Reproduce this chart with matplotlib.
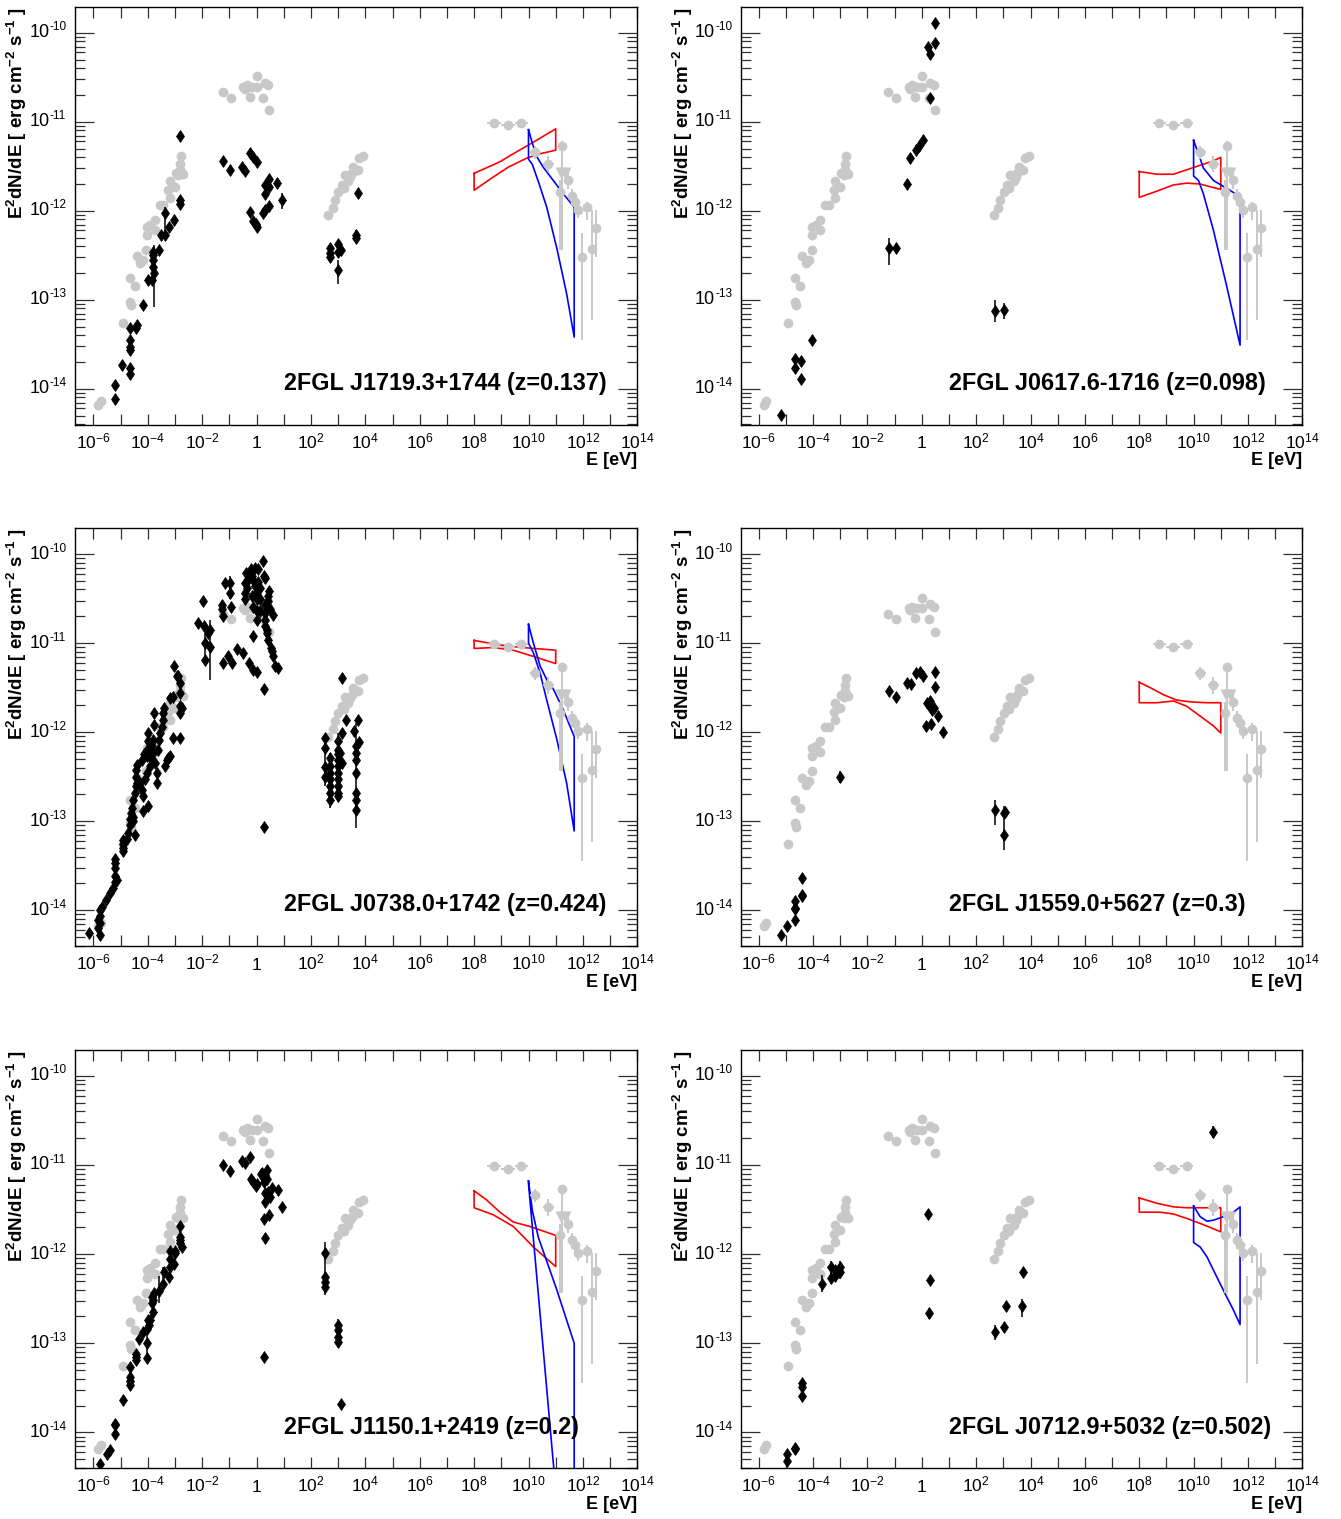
import numpy as np
import matplotlib
matplotlib.use('Agg')
import matplotlib.pyplot as plt
from matplotlib.ticker import FixedLocator, NullLocator, NullFormatter
from matplotlib.transforms import offset_copy

plt.rcParams['font.family'] = ['Liberation Sans', 'DejaVu Sans']
plt.rcParams['mathtext.fontset'] = 'custom'
plt.rcParams['mathtext.rm'] = 'Liberation Sans'
plt.rcParams['mathtext.it'] = 'Liberation Sans:italic'
plt.rcParams['mathtext.bf'] = 'Liberation Sans:bold'
plt.rcParams['mathtext.default'] = 'regular'

# all values are log10(E / eV) and log10(E^2 dN/dE / erg cm-2 s-1)

### grey reference SED, same in every panel
ref_sed = np.array([
    [-5.82, -14.18], [-5.72, -14.14], [-4.92, -13.26], [-4.65, -13.02], [-4.62, -13.06], [-4.65, -12.76],
    [-4.47, -12.85], [-4.41, -12.51], [-4.28, -12.59], [-4.16, -12.55], [-4.06, -12.44], [-4.03, -12.27],
    [-4.03, -12.18], [-3.90, -12.16], [-3.73, -12.10], [-3.73, -12.22], [-3.55, -11.94], [-3.43, -11.94],
    [-3.18, -11.86], [-3.24, -11.77], [-3.18, -11.67], [-3.00, -11.73], [-2.96, -11.58], [-2.81, -11.54],
    [-2.81, -11.47], [-2.78, -11.39], [-2.88, -11.60], [-2.72, -11.59],
    [-1.25, -10.67], [-0.95, -10.73], [-0.49, -10.61], [-0.36, -10.59], [-0.24, -10.72], [-0.18, -10.61],
    [0.00, -10.49], [0.00, -10.61], [0.25, -10.73], [0.31, -10.56], [0.43, -10.59], [0.47, -10.87], [-0.42, -10.63],
    [2.64, -12.05], [2.82, -11.97], [2.89, -11.88], [3.01, -11.79], [3.13, -11.71], [3.25, -11.60],
    [3.38, -11.67], [3.50, -11.58], [3.56, -11.51], [3.74, -11.54], [3.78, -11.41], [3.93, -11.39],
    [3.20, -11.74], [3.45, -11.62],
])
# grey gamma-ray points: logE, logF, half width (dex), low, high
ref_gam = np.array([
    [8.74, -11.01, 0.25, -11.01, -11.01],
    [9.24, -11.04, 0.25, -11.04, -11.04],
    [9.74, -11.01, 0.25, -11.01, -11.01],
    [10.24, -11.34, 0.20, -11.42, -11.27],
    [10.73, -11.47, 0.20, -11.57, -11.38],
    [11.24, -11.27, 0.15, -12.44, -11.22],
    [11.46, -11.66, 0.08, -11.76, -11.56],
    [11.16, -11.79, 0.00, -12.44, -11.66],
    [11.59, -11.84, 0.08, -11.94, -11.76],
    [11.71, -11.90, 0.00, -11.98, -11.82],
    [11.83, -11.99, 0.00, -12.08, -11.92],
    [12.14, -11.96, 0.00, -12.10, -11.90],
    [11.98, -12.52, 0.00, -13.45, -12.25],
    [12.32, -12.43, 0.00, -13.23, -11.99],
    [12.47, -12.19, 0.00, -12.52, -11.99],
])
ref_ul = np.array([[11.18, -11.58], [11.33, -11.58]])

### 2FGL J1719.3+1744
p1_sed = np.array([
    [-5.20, -13.96], [-5.20, -14.12], [-4.93, -13.73], [-4.65, -13.32], [-4.65, -13.45], [-4.65, -13.53],
    [-4.65, -13.57], [-4.65, -13.77], [-4.65, -13.83], [-4.43, -13.32], [-4.41, -13.28], [-4.19, -13.06],
    [-3.98, -12.78], [-3.86, -12.78], [-3.79, -12.63], [-3.79, -12.55], [-3.79, -12.50], [-3.79, -12.46],
    [-3.76, -12.70], [-3.57, -12.44], [-3.51, -12.27], [-3.37, -12.03], [-3.37, -12.27], [-3.21, -12.18],
    [-3.02, -12.10], [-2.81, -11.92], [-2.81, -11.88], [-2.80, -11.16],
    [-1.25, -11.44], [-0.98, -11.54], [-0.55, -11.51], [-0.42, -11.55], [-0.24, -11.35], [-0.24, -12.01],
    [-0.12, -11.40], [-0.12, -12.12], [0.00, -11.45], [-0.02, -12.15], [0.03, -12.18], [0.23, -12.03],
    [0.31, -11.99], [0.31, -11.81], [0.31, -11.71], [0.47, -11.73], [0.47, -11.64], [0.47, -11.95],
    [0.74, -11.69], [0.92, -11.88],
    [2.70, -12.42], [2.70, -12.48], [2.70, -12.52], [3.01, -12.37], [3.01, -12.46], [3.11, -12.44],
    [3.01, -12.67], [3.66, -12.27], [3.66, -12.31], [3.74, -11.80],
])
p1_err = np.array([[-3.76, -13.08, -12.39], [-3.37, -12.25, -11.96], [0.92, -11.98, -11.80],
                   [3.01, -12.82, -12.55], [3.66, -12.36, -12.22], [-4.65, -13.60, -13.47]])
p1_red_up = np.array([[8.0, -11.58], [8.95, -11.45], [9.44, -11.36], [10.18, -11.23], [11.0, -11.08]])
p1_red_lo = np.array([[8.0, -11.77], [8.71, -11.62], [9.26, -11.51], [9.93, -11.41], [10.42, -11.36], [11.0, -11.32]])
p1_blue_up = np.array([[10.0, -11.09], [10.14, -11.24], [10.30, -11.39], [10.54, -11.51], [10.91, -11.66],
                       [11.28, -11.81], [11.68, -11.96]])
p1_blue_lo = np.array([[10.0, -11.42], [10.14, -11.48], [10.36, -11.67], [10.67, -11.96], [11.04, -12.42],
                       [11.40, -12.93], [11.68, -13.42]])

### 2FGL J0617.6-1716
p2_sed = np.array([
    [-5.20, -14.30], [-4.65, -13.67], [-4.65, -13.77], [-4.43, -13.69], [-4.43, -13.89], [-4.04, -13.45],
    [-1.22, -12.42], [-0.95, -12.42], [-0.55, -11.70], [-0.42, -11.41], [-0.21, -11.32], [-0.09, -11.27],
    [0.04, -11.21], [0.29, -10.73], [0.23, -10.16], [0.31, -10.24], [0.47, -10.11], [0.47, -9.89],
    [2.70, -13.13], [3.01, -13.12],
])
p2_err = np.array([[-1.22, -12.61, -12.31], [2.70, -13.25, -13.00], [3.01, -13.22, -13.04]])
p2_red_up = np.array([[8.0, -11.56], [8.65, -11.59], [9.26, -11.59], [9.75, -11.54], [10.24, -11.49],
                      [10.73, -11.44], [11.0, -11.40]])
p2_red_lo = np.array([[8.0, -11.85], [8.65, -11.78], [9.26, -11.71], [9.75, -11.69], [10.24, -11.70],
                      [10.73, -11.74], [11.0, -11.76]])
p2_blue_up = np.array([[10.0, -11.21], [10.18, -11.36], [10.36, -11.52], [10.73, -11.66], [11.22, -11.75], [11.71, -11.84]])
p2_blue_lo = np.array([[10.0, -11.61], [10.18, -11.66], [10.36, -11.81], [10.73, -12.22], [11.22, -12.85], [11.71, -13.51]])

### 2FGL J0738.0+1742
p3_sed = np.array([
    [-6.15, -14.26], [-5.82, -14.20], [-5.75, -14.14], [-5.82, -14.11], [-5.75, -14.07], [-5.75, -14.00],
    [-5.69, -13.96], [-5.75, -14.28], [-5.53, -13.88], [-5.39, -13.81], [-5.26, -13.75], [-5.20, -13.68],
    [-5.20, -13.62], [-5.20, -13.53], [-5.20, -13.47], [-5.20, -13.43], [-5.14, -13.66], [-4.92, -13.34],
    [-4.92, -13.30], [-4.92, -13.26], [-4.92, -13.21], [-4.77, -13.20], [-4.71, -13.13], [-4.65, -13.04],
    [-4.65, -12.98], [-4.63, -12.91], [-4.59, -12.85], [-4.53, -13.00], [-4.47, -13.15], [-4.53, -12.95],
    [-4.53, -12.76], [-4.47, -12.68], [-4.43, -12.61], [-4.41, -12.57], [-4.43, -12.50], [-4.43, -12.42],
    [-4.41, -12.37], [-4.28, -12.57], [-4.22, -12.65], [-4.16, -12.72], [-4.16, -12.89], [-4.10, -12.53],
    [-4.04, -12.46], [-3.98, -12.83], [-4.22, -12.31], [-4.14, -12.25], [-4.04, -12.20], [-3.98, -12.10],
    [-3.98, -12.01], [-4.04, -12.27], [-3.94, -12.24], [-3.92, -12.38], [-3.86, -12.31], [-3.86, -12.16],
    [-3.79, -12.09], [-3.77, -11.92], [-3.77, -11.78], [-3.79, -12.24], [-3.73, -12.35], [-3.67, -12.46],
    [-3.67, -12.57], [-3.61, -12.20], [-3.57, -12.09], [-3.55, -12.01], [-3.49, -11.94], [-3.43, -11.86],
    [-3.43, -11.79], [-3.40, -11.73], [-3.37, -12.38], [-3.30, -12.31], [-3.24, -12.29], [-3.18, -12.27],
    [-3.18, -11.62], [-3.06, -11.60], [-3.02, -11.26], [-2.94, -11.37], [-2.88, -11.37], [-2.81, -11.45],
    [-2.81, -11.56], [-2.81, -11.78], [-2.81, -11.71], [-2.75, -11.73], [-2.81, -12.07], [-3.06, -12.07],
    [-2.14, -10.77], [-1.98, -10.53], [-1.93, -10.81], [-1.89, -11.00], [-1.89, -11.19], [-1.77, -10.89],
    [-1.71, -10.85], [-1.71, -11.04], [-1.28, -10.57], [-1.28, -10.62], [-1.25, -10.70], [-1.16, -10.32],
    [-0.98, -10.32], [-0.98, -10.44], [-0.94, -10.59], [-1.22, -11.22], [-1.04, -11.15], [-0.91, -11.22],
    [-0.73, -11.07], [-0.49, -11.11], [-0.42, -10.44], [-0.42, -10.51], [-0.42, -10.32], [-0.39, -10.21],
    [-0.36, -10.38], [-0.30, -10.29], [-0.26, -11.22], [-0.22, -10.17], [-0.18, -10.25], [-0.18, -10.47],
    [-0.12, -10.29], [-0.12, -10.60], [-0.12, -10.92], [-0.12, -11.30], [-0.06, -10.16], [-0.06, -10.36],
    [-0.02, -10.44], [0.00, -10.51], [0.00, -10.64], [0.00, -10.74], [0.00, -11.32], [0.07, -10.17],
    [0.07, -10.31], [0.13, -10.38], [0.13, -10.51], [0.13, -10.64], [0.25, -10.08], [0.27, -10.25],
    [0.31, -10.27], [0.31, -10.57], [0.31, -10.66], [0.31, -10.74], [0.31, -10.81], [0.37, -10.85],
    [0.37, -10.89], [0.41, -10.47], [0.43, -10.53], [0.43, -10.96], [0.47, -10.42], [0.50, -10.62],
    [0.52, -11.05], [0.56, -11.09], [0.62, -11.15], [0.62, -10.68], [0.68, -11.26], [0.80, -11.28],
    [0.29, -11.52], [0.29, -13.07],
    [2.52, -12.07], [2.52, -12.18], [2.52, -12.39], [2.52, -12.50], [2.70, -12.29], [2.70, -12.38],
    [2.70, -12.46], [2.70, -12.53], [2.70, -12.61], [2.70, -12.68], [2.70, -12.76], [3.01, -12.10],
    [3.01, -12.20], [3.01, -12.25], [3.01, -12.31], [3.01, -12.38], [3.01, -12.46], [3.01, -12.53],
    [3.01, -12.61], [3.01, -12.68], [3.01, -12.72], [3.07, -12.23], [3.13, -12.35], [3.13, -12.01],
    [3.13, -11.39], [3.28, -11.86], [3.60, -11.99], [3.66, -12.16], [3.66, -12.23], [3.66, -12.31],
    [3.66, -12.46], [3.66, -12.68], [3.66, -12.76], [3.66, -12.87], [3.74, -11.86], [3.78, -12.11],
])
p3_err = np.array([[2.52, -12.61, -12.03], [2.70, -12.85, -12.23], [3.01, -12.79, -12.01], [3.66, -13.08, -11.90],
                   [-1.71, -11.41, -10.74], [-1.89, -11.22, -10.90], [-0.98, -10.50, -10.25]])
p3_red_up = np.array([[8.0, -10.97], [8.71, -11.01], [9.44, -11.04], [10.18, -11.06], [11.0, -11.08]])
p3_red_lo = np.array([[8.0, -11.06], [8.71, -11.05], [9.44, -11.08], [10.18, -11.15], [11.0, -11.23]])
p3_blue_up = np.array([[10.0, -10.79], [10.18, -11.00], [10.43, -11.26], [10.67, -11.41], [10.92, -11.52],
                       [11.28, -11.75], [11.68, -12.05]])
p3_blue_lo = np.array([[10.0, -11.00], [10.18, -11.11], [10.43, -11.34], [10.67, -11.64], [11.04, -12.08],
                       [11.40, -12.57], [11.68, -13.11]])

### 2FGL J1559.0+5627
p4_sed = np.array([
    [-5.20, -14.28], [-4.98, -14.18], [-4.68, -14.11], [-4.68, -13.99], [-4.65, -13.98], [-4.65, -13.90],
    [-4.41, -13.84], [-4.41, -13.83], [-4.41, -13.64], [-3.00, -12.50],
    [-1.22, -11.54], [-0.95, -11.60], [-0.55, -11.45], [-0.40, -11.46], [-0.20, -11.34], [-0.08, -11.32],
    [0.04, -11.37], [0.15, -11.93], [0.19, -11.67], [0.25, -11.69], [0.31, -11.65], [0.34, -11.91],
    [0.37, -11.75], [0.43, -11.73], [0.47, -11.32], [0.49, -11.49], [0.58, -11.82], [0.78, -12.00],
    [2.71, -12.88], [3.01, -12.91], [3.07, -12.90], [3.01, -13.16],
])
p4_err = np.array([[-3.00, -12.57, -12.44], [2.71, -13.04, -12.76], [3.01, -13.32, -12.83]])
p4_red_up = np.array([[8.0, -11.44], [8.40, -11.50], [8.89, -11.58], [9.38, -11.64], [9.87, -11.66],
                      [10.48, -11.67], [11.0, -11.67]])
p4_red_lo = np.array([[8.0, -11.67], [8.65, -11.67], [9.26, -11.65], [9.75, -11.71], [10.24, -11.82],
                      [10.73, -11.93], [11.0, -12.01]])

### 2FGL J1150.1+2419
p5_sed = np.array([
    [-5.75, -14.35], [-5.49, -14.24], [-5.39, -14.20], [-5.20, -13.90], [-5.20, -13.92], [-5.20, -14.02],
    [-4.92, -13.64], [-4.65, -13.38], [-4.65, -13.42], [-4.65, -13.47], [-4.65, -13.27], [-4.43, -13.12],
    [-4.43, -13.19], [-4.43, -13.15], [-4.31, -12.95], [-4.16, -12.87], [-4.04, -13.17], [-4.04, -13.00],
    [-4.04, -12.84], [-3.98, -12.74], [-3.94, -12.80], [-3.92, -12.74], [-3.86, -12.48], [-3.86, -12.55],
    [-3.79, -12.65], [-3.79, -12.52], [-3.77, -12.44], [-3.57, -12.41], [-3.43, -12.33], [-3.39, -12.20],
    [-3.21, -12.26], [-3.18, -12.14], [-3.18, -12.05], [-3.18, -11.96], [-3.02, -12.11], [-3.00, -11.99],
    [-3.00, -11.96], [-2.81, -11.88], [-2.81, -11.84], [-2.81, -11.81], [-2.81, -11.68], [-2.75, -11.92],
    [-1.22, -11.00], [-0.98, -11.07], [-0.55, -10.96], [-0.42, -10.98], [-0.24, -10.91], [-0.22, -11.16],
    [-0.12, -11.19], [-0.02, -11.24], [0.00, -11.21], [0.16, -11.10], [0.21, -11.09], [0.25, -11.13],
    [0.27, -11.19], [0.31, -11.32], [0.31, -11.11], [0.37, -11.06], [0.37, -11.16], [0.41, -11.30],
    [0.50, -11.36], [0.56, -11.26], [0.78, -11.28], [0.92, -11.47], [0.31, -11.41], [0.47, -11.56],
    [0.27, -11.61], [0.31, -11.82], [0.29, -13.15],
    [2.52, -11.99], [2.52, -12.26], [2.52, -12.31], [2.52, -12.37], [3.01, -12.79], [3.01, -12.85],
    [3.01, -12.93], [3.01, -12.99], [3.11, -13.68],
])
p5_err = np.array([[2.52, -12.46, -11.86], [3.01, -13.03, -12.73], [-4.04, -13.21, -12.80], [-5.20, -14.05, -13.86],
                   [-3.57, -12.55, -12.25], [-3.43, -12.40, -12.15], [-2.81, -11.95, -11.65]])
p5_red_up = np.array([[8.0, -11.29], [8.45, -11.39], [8.95, -11.53], [9.44, -11.64], [10.05, -11.69], [11.0, -11.79]])
p5_red_lo = np.array([[8.0, -11.48], [8.71, -11.56], [9.44, -11.69], [10.18, -11.92], [11.0, -12.14]])
p5_blue_up = np.array([[10.0, -11.18], [10.14, -11.51], [10.36, -11.81], [11.04, -12.40], [11.68, -13.00]])
p5_blue_lo = np.array([[10.0, -11.21], [10.92, -14.37], [11.68, -17.05]])

### 2FGL J0712.9+5032
p6_sed = np.array([
    [-4.98, -14.24], [-4.98, -14.32], [-4.68, -14.17], [-4.65, -14.18], [-4.41, -13.45], [-4.41, -13.49],
    [-4.41, -13.59], [-3.69, -12.33], [-3.36, -12.14], [-3.36, -12.27], [-3.20, -12.18], [-3.18, -12.25],
    [-3.00, -12.14], [-3.00, -12.20],
    [0.23, -11.55], [0.31, -12.29], [0.25, -12.66],
    [2.71, -12.87], [3.01, -12.82], [3.11, -12.58], [3.67, -12.58], [3.72, -12.20], [10.70, -10.63],
])
p6_err = np.array([[-3.69, -12.43, -12.23], [0.25, -12.73, -12.60], [2.71, -12.96, -12.79], [3.67, -12.70, -12.50],
                   [10.70, -10.70, -10.56], [-3.36, -12.33, -12.08], [-3.00, -12.28, -12.08]])
p6_red_up = np.array([[8.0, -11.37], [8.65, -11.43], [9.26, -11.47], [9.75, -11.48], [10.48, -11.48], [11.0, -11.48]])
p6_red_lo = np.array([[8.0, -11.53], [8.77, -11.53], [9.26, -11.55], [9.75, -11.60], [10.36, -11.67], [11.0, -11.75]])
p6_blue_up = np.array([[10.0, -11.46], [10.24, -11.58], [10.49, -11.63], [10.73, -11.62], [11.10, -11.58],
                       [11.47, -11.53], [11.71, -11.47]])
p6_blue_lo = np.array([[10.0, -11.87], [10.24, -11.92], [10.49, -12.03], [10.86, -12.26], [11.22, -12.48],
                       [11.47, -12.63], [11.71, -12.79]])

panels = [
    ('2FGL J1719.3+1744 (z=0.137)', p1_sed, p1_err, p1_red_up, p1_red_lo, p1_blue_up, p1_blue_lo),
    ('2FGL J0617.6-1716 (z=0.098)', p2_sed, p2_err, p2_red_up, p2_red_lo, p2_blue_up, p2_blue_lo),
    ('2FGL J0738.0+1742 (z=0.424)', p3_sed, p3_err, p3_red_up, p3_red_lo, p3_blue_up, p3_blue_lo),
    ('2FGL J1559.0+5627 (z=0.3)', p4_sed, p4_err, p4_red_up, p4_red_lo, None, None),
    ('2FGL J1150.1+2419 (z=0.2)', p5_sed, p5_err, p5_red_up, p5_red_lo, p5_blue_up, p5_blue_lo),
    ('2FGL J0712.9+5032 (z=0.502)', p6_sed, p6_err, p6_red_up, p6_red_lo, p6_blue_up, p6_blue_lo),
]
x_label_decades = list(range(-6, 15, 2))
y_label_decades = list(range(-14, -9))

GREY = '#c8c8c8'
W, H = 1341.0, 1519.0
cols = [(75.0, 562.3), (740.5, 561.8)]
rows = [(7.0, 417.5), (528.3, 417.7), (1050.0, 418.3)]


def bowtie(ax, up, lo, color):
    e = np.concatenate([up[:, 0], lo[::-1, 0], up[:1, 0]])
    f = np.concatenate([up[:, 1], lo[::-1, 1], up[:1, 1]])
    ax.plot(10**e, 10**f, color=color, lw=1.2, zorder=3)


fig = plt.figure(figsize=(13.41, 15.19), dpi=100)

for i, (name, sed, err, rup, rlo, bup, blo) in enumerate(panels):
    x0, w = cols[i % 2]
    y0, h = rows[i // 2]
    ax = fig.add_axes([x0 / W, 1 - (y0 + h) / H, w / W, h / H])
    ax.set_xscale('log')
    ax.set_yscale('log')

    bowtie(ax, rup, rlo, '#ff0000')

    # grey reference
    ax.plot(10**ref_sed[:, 0], 10**ref_sed[:, 1], 'o', color=GREY, ms=7, mec='none', zorder=4)
    ge, gf = ref_gam[:, 0], ref_gam[:, 1]
    xerr = [10**ge - 10**(ge - ref_gam[:, 2]), 10**(ge + ref_gam[:, 2]) - 10**ge]
    yerr = [10**gf - 10**ref_gam[:, 3], 10**ref_gam[:, 4] - 10**gf]
    ax.errorbar(10**ge, 10**gf, xerr=xerr, yerr=yerr, fmt='o', color=GREY, ms=7, mec='none',
                elinewidth=1.4, capsize=0, zorder=4)
    ax.plot(10**ref_ul[:, 0], 10**ref_ul[:, 1], 'v', color=GREY, ms=8, mec='none', zorder=4)

    if bup is not None:
        bowtie(ax, bup, blo, '#0000ff')

    # black source data
    ax.vlines(10**err[:, 0], 10**err[:, 1], 10**err[:, 2], color='k', lw=1.1, zorder=5)
    ax.plot(10**sed[:, 0], 10**sed[:, 1], 'd', color='k', ms=6.0, mec='k', mew=0.5, zorder=6)

    ax.set_xlim(10**-6.673, 1e14)
    ax.set_ylim(10**-14.402, 10**-9.711)
    ax.xaxis.set_major_locator(FixedLocator([10.0**k for k in range(-6, 15)]))
    ax.xaxis.set_minor_locator(NullLocator())
    ax.xaxis.set_major_formatter(NullFormatter())
    ax.yaxis.set_major_locator(FixedLocator([10.0**k for k in y_label_decades]))
    ax.yaxis.set_minor_locator(FixedLocator([m * 10.0**k for k in range(-15, -9) for m in range(2, 10)]))
    ax.yaxis.set_major_formatter(NullFormatter())
    ax.yaxis.set_minor_formatter(NullFormatter())
    ax.tick_params(axis='both', which='both', direction='in', top=True, right=True, width=0.9, color='#303030')
    ax.tick_params(axis='x', which='major', length=8)
    ax.tick_params(axis='y', which='major', length=13.5)
    ax.tick_params(axis='y', which='minor', length=7)
    for s in ax.spines.values():
        s.set_linewidth(1.0)

    # x tick labels on a common baseline (ROOT style)
    for k in x_label_decades:
        lab = '1' if k == 0 else r'$10^{%d}$' % k
        ax.text(10.0**k, -0.0563, lab, transform=ax.get_xaxis_transform(), fontsize=12.5,
                ha='center', va='baseline')

    # y tick labels: large "10" with a small hyphenated exponent
    ytr = ax.get_yaxis_transform()
    base_tr = offset_copy(ytr, fig=fig, x=-18.5, y=0, units='points')
    exp_tr = offset_copy(ytr, fig=fig, x=-18.0, y=3.8, units='points')
    for k in y_label_decades:
        ax.text(0, 10.0**k, '10', transform=base_tr, fontsize=13, ha='right', va='center')
        ax.text(0, 10.0**k, '-%d' % (-k), transform=exp_tr, fontsize=8.5, ha='left', va='center')

    ax.text(0.3717, 0.083, name, transform=ax.transAxes, fontsize=16.8, fontweight='bold',
            ha='left', va='baseline', zorder=7)
    ax.text(1.0, -0.087, 'E [eV]', transform=ax.transAxes, fontsize=13, fontweight='bold',
            ha='right', va='center')
    ax.text(-0.103, 1.0, r'E$^{2}$dN/dE [ erg cm$^{-2}$ s$^{-1}$ ]', transform=ax.transAxes,
            rotation=90, fontsize=13.5, fontweight='bold', ha='center', va='top')

fig.savefig('out.png', dpi=100)
